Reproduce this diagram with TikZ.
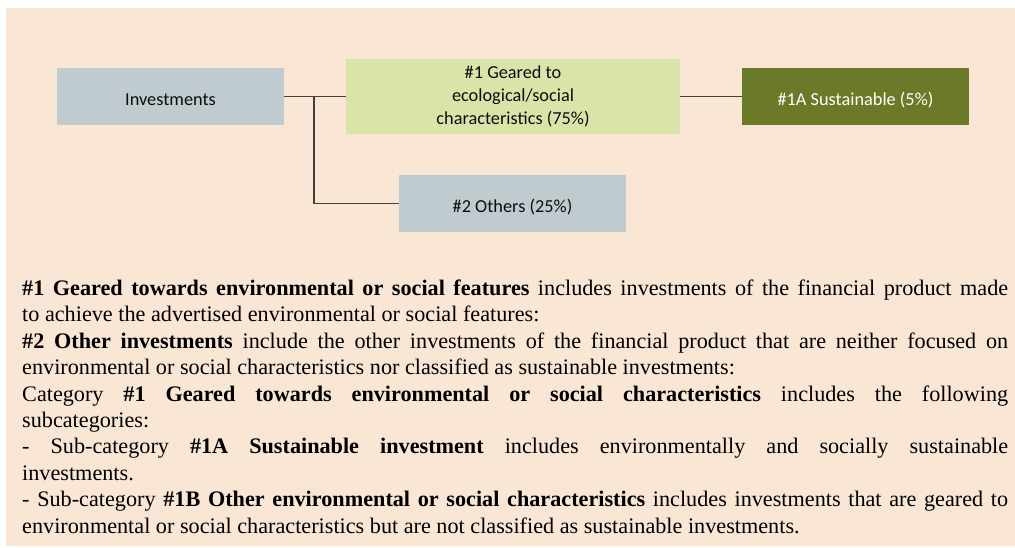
\documentclass[tikz,border=0pt]{standalone}
\usepackage{fontspec}
\setmainfont{Liberation Serif}
\newfontfamily\boxfont{Carlito}
\definecolor{bgpeach}{HTML}{F9E6D5}
\definecolor{boxgrey}{HTML}{BFCBCE}
\definecolor{lightgreen}{HTML}{D8E4A8}
\definecolor{olivebox}{HTML}{6B7A28}
\definecolor{connc}{HTML}{463E3E}
\tikzset{
  box/.style={rectangle, inner sep=0pt, font=\boxfont\fontsize{18.3}{23}\selectfont,
    minimum width=227pt, minimum height=57pt},
  greybox/.style={box, fill=boxgrey, text=black!95, text height=18pt, text depth=0pt},
  greenbox/.style={box, fill=lightgreen, text=black!95, minimum width=334pt, minimum height=75pt, align=center},
  olive/.style={box, fill=olivebox, text=white, text height=17pt, text depth=0pt},
  conn/.style={draw=connc, line width=1.4pt},
  bodytext/.style={anchor=base west, text width=986pt, inner sep=0pt, align=justify,
    font=\fontsize{22.2}{26.4}\selectfont, text=black}
}
\begin{document}
\begin{tikzpicture}[x=1pt,y=-1pt]
\useasboundingbox (0,0) rectangle (1015,547);
\fill[bgpeach] (6,8) rectangle (1015,546);

\node[greybox] (inv) at (170.5,96.5) {Investments\hspace{14pt}};
\node[greenbox] (g1) at (513,96.5) {\#1 Geared to\\ecological/social\\characteristics (75\%)};
\node[olive] (s1a) at (855.5,96.5) {\#1A Sustainable (5\%)\hspace{6pt}};
\node[greybox] (oth) at (512.5,203.5) {\#2 Others (25\%)\hspace{13pt}};

\coordinate (j) at (314,96.5);
\draw[conn] (inv.east) -- (g1.west);
\draw[conn] (j) |- (oth.west);
\draw[conn] (g1.east) -- (s1a.west);

\node[bodytext] (txt) at (22,295.5) {\hyphenpenalty=10000\exhyphenpenalty=10000\tolerance=10000\parindent=0pt\parskip=0pt
\textbf{\#1 Geared towards environmental or social features} includes investments of the financial product made\linebreak
to achieve the advertised environmental or social features:\par
\textbf{\#2 Other investments} include the other investments of the financial product that are neither focused on\linebreak
environmental or social characteristics nor classified as sustainable investments:\par
Category \textbf{\#1 Geared towards environmental or social characteristics} includes the following\linebreak
subcategories:\par
- Sub-category \textbf{\#1A Sustainable investment} includes environmentally and socially sustainable\linebreak
investments.\par
-\ Sub-category \textbf{\#1B Other environmental or social characteristics} includes investments that are geared to\linebreak
environmental or social characteristics but are not classified as sustainable investments.\par};
\end{tikzpicture}
\end{document}
